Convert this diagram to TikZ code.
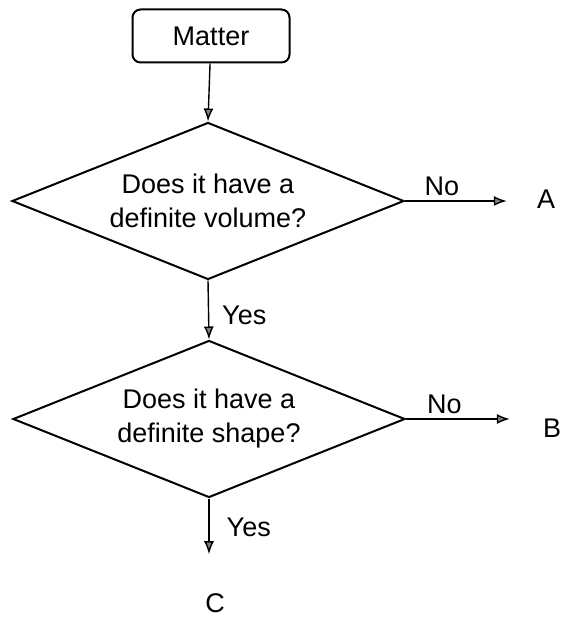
\documentclass[tikz,border=0pt]{standalone}
\usepackage{fontspec}
\setmainfont{Liberation Sans}
\usetikzlibrary{shapes.geometric, arrows.meta, positioning}
\tikzstyle{startnode} = [
  rectangle, rounded corners=8pt, draw, line width=2pt,
  minimum width=157pt, minimum height=53pt, text centered
]
\tikzstyle{decision} = [
  diamond, draw, line width=2pt, aspect=2.5, inner sep=0pt,
  minimum width=392pt, minimum height=157pt,
  text centered, align=center
]
\tikzstyle{endnode} = [inner sep=0pt, text centered]
\tikzstyle{arrow} = [line width=1.4pt, -{Latex[length=13pt, width=10pt, fill=gray]}]

\begin{document}
\begin{tikzpicture}[x=1pt, y=1pt, font=\fontsize{27}{34}\selectfont]
\useasboundingbox (0,0) rectangle (566,-617);

% Nodes
\node (matter) [startnode] at (211,-36) {Matter};
\node (volume) [decision] at (208,-201) {Does it have a\\ definite volume?};
\node (shape) [decision] at (209,-419) {Does it have a\\ definite shape?};
\node (A) [endnode] at (546,-199) {A};
\node (B) [endnode] at (552,-428) {B};
\node (C) [endnode] at (215,-603) {C};

% Arrows
\draw [arrow] (matter) -- (volume.north);
\draw [arrow, shorten >=30pt] (volume.east) -- (volume.east -| A.west)
  node [above, pos=0.28, inner sep=5pt] {No};
\draw [arrow] (volume.south) -- (shape.north)
  node [right, midway, inner sep=0pt, xshift=13pt, yshift=-5pt] {Yes};
\draw [arrow, shorten >=33pt] (shape.east) -- (shape.east -| B.west)
  node [above, pos=0.28, inner sep=5pt] {No};
\draw [arrow, shorten >=39pt] (shape.south) -- (shape.south |- C.north)
  node [right, pos=0.3, inner sep=0pt, xshift=17pt] {Yes};

\end{tikzpicture}
\end{document}
